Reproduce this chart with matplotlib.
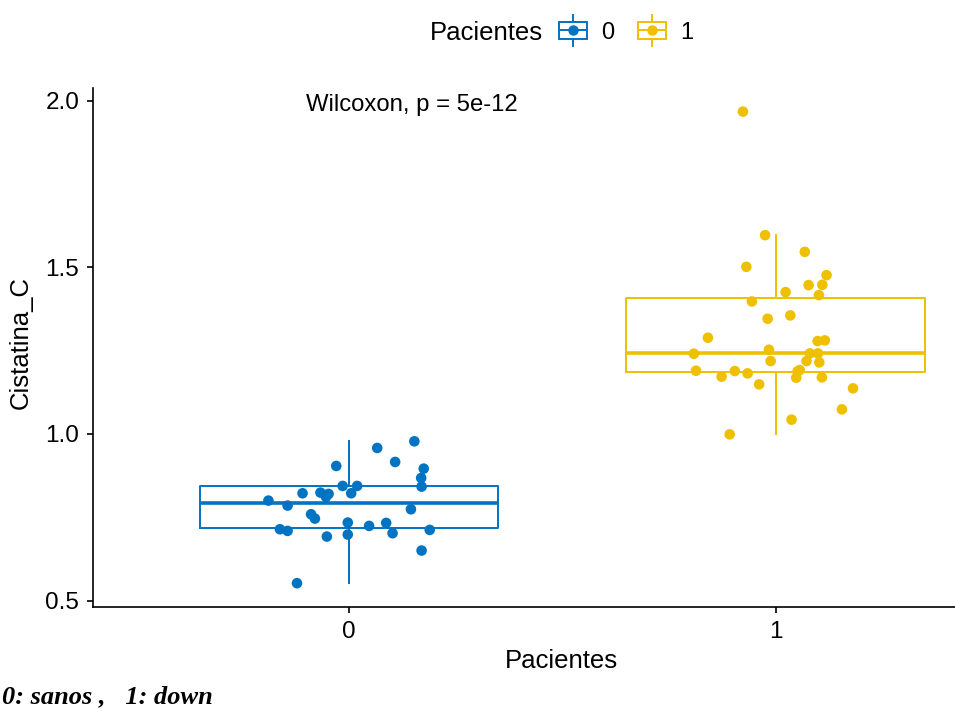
import matplotlib
matplotlib.use("Agg")
import matplotlib.pyplot as plt
import numpy as np
from matplotlib.legend_handler import HandlerBase
from matplotlib.patches import Rectangle
from matplotlib.lines import Line2D

plt.rcParams["font.family"] = ["Liberation Sans", "DejaVu Sans"]

groups = ["0", "1"]
colors = ["#0073C2", "#EFC000"]

# Cistatina C, grupo 0 (sanos)
sanos = [0.800, 0.785, 0.714, 0.709, 0.822, 0.759, 0.746, 0.824, 0.820, 0.811,
         0.904, 0.844, 0.822, 0.844, 0.692, 0.734, 0.698, 0.552, 0.958, 0.916,
         0.978, 0.896, 0.868, 0.842, 0.774, 0.724, 0.733, 0.702, 0.712, 0.650]
sanos_jit = [-0.189, -0.144, -0.162, -0.144, -0.109, -0.089, -0.080, -0.067, -0.048, -0.054,
             -0.030, -0.015, 0.005, 0.019, -0.052, -0.003, -0.003, -0.122, 0.066, 0.108,
             0.153, 0.175, 0.169, 0.170, 0.145, 0.047, 0.087, 0.102, 0.189, 0.170]

# Cistatina C, grupo 1 (down)
down = [1.968, 1.597, 1.502, 1.547, 1.477, 1.448, 1.447, 1.426, 1.417, 1.398,
        1.346, 1.356, 1.289, 1.279, 1.281, 1.241, 1.253, 1.219, 1.242, 1.242,
        1.219, 1.215, 1.190, 1.172, 1.189, 1.182, 1.149, 1.192, 1.188, 1.169,
        1.170, 1.137, 1.074, 1.043, 0.999]
down_jit = [-0.077, -0.025, -0.069, 0.068, 0.119, 0.109, 0.077, 0.023, 0.101, -0.056,
            -0.019, 0.034, -0.159, 0.098, 0.115, -0.192, -0.016, -0.012, 0.080, 0.099,
            0.072, 0.102, -0.187, -0.127, -0.096, -0.066, -0.039, 0.056, 0.051, 0.048,
            0.108, 0.181, 0.155, 0.037, -0.108]

data = [sanos, down]
jitter = [sanos_jit, down_jit]


class BoxKey(HandlerBase):
    # boxplot + point key, like ggplot's legend glyph
    def create_artists(self, legend, orig_handle, xdescent, ydescent,
                       width, height, fontsize, trans):
        c = orig_handle.get_color()
        x0, y0 = -xdescent, -ydescent
        cx, cy = x0 + width / 2, y0 + height / 2
        ext = 0.4 * height
        box = Rectangle((x0, y0), width, height, fill=False, edgecolor=c,
                        lw=1.4, transform=trans)
        med = Line2D([x0, x0 + width], [cy, cy], color=c, lw=1.4, transform=trans)
        wh = Line2D([cx, cx], [y0 + height, y0 + height + ext], color=c, lw=1.4, transform=trans)
        wl = Line2D([cx, cx], [y0 - ext, y0], color=c, lw=1.4, transform=trans)
        dot = Line2D([cx], [cy], marker="o", ms=6.5, color=c, linestyle="none", transform=trans)
        return [box, med, wh, wl, dot]


fig = plt.figure(figsize=(9.55, 7.11), dpi=100)
ax = fig.add_axes([0.0974, 0.1466, 0.9026, 0.7296])

bp = ax.boxplot(data, positions=[0, 1], widths=0.7, showfliers=False,
                showcaps=False, whis=1.5, zorder=2)
for i, c in enumerate(colors):
    bp["boxes"][i].set(color=c, linewidth=1.4)
    bp["medians"][i].set(color=c, linewidth=2.6)
    for w in bp["whiskers"][2 * i:2 * i + 2]:
        w.set(color=c, linewidth=1.4)

for i, c in enumerate(colors):
    xs = i + np.array(jitter[i])
    ax.scatter(xs, data[i], s=58, color=c, edgecolors="none", zorder=3)

allv = np.concatenate(data)
lo, hi = allv.min(), allv.max()
pad = 0.05 * (hi - lo)
ax.set_ylim(lo - pad, hi + pad)
ax.set_xlim(-0.6, 1.42)

ax.set_xticks([0, 1])
ax.set_xticklabels(groups)
ax.set_yticks([0.5, 1.0, 1.5, 2.0])
ax.set_yticklabels(["0.5", "1.0", "1.5", "2.0"])

for s in ["top", "right"]:
    ax.spines[s].set_visible(False)
for s in ["left", "bottom"]:
    ax.spines[s].set_linewidth(1.2)
ax.tick_params(axis="both", length=4, width=1.2, labelsize=17.5, colors="black", pad=6)

ax.set_xlabel("Pacientes", fontsize=18.5)
ax.xaxis.set_label_coords(0.544, -0.082)
ax.set_ylabel("Cistatina_C", fontsize=18.5)
ax.yaxis.set_label_coords(-0.07, 0.51)

ax.text(-0.1, 1.988, "Wilcoxon, p = 5e-12", fontsize=17.2, ha="left", va="center")

# leyenda arriba, título a la izquierda
fig.text(0.450, 0.954, "Pacientes", fontsize=18.5, ha="left", va="center")
keys = [Line2D([], [], color=c) for c in colors]
fig.legend(keys, groups, handler_map={Line2D: BoxKey()}, ncol=2,
           loc="center left", bbox_to_anchor=(0.585, 0.954), frameon=False,
           fontsize=17, handlelength=1.2, handleheight=0.75,
           handletextpad=0.6, columnspacing=1.0, borderpad=0, borderaxespad=0)

fig.text(0.002, 0.0113, "0: sanos ,   1: down", fontsize=19, fontweight="bold",
         fontstyle="italic", family=["Liberation Serif", "DejaVu Serif"],
         ha="left", va="baseline")

fig.savefig("out.png", dpi=100)
